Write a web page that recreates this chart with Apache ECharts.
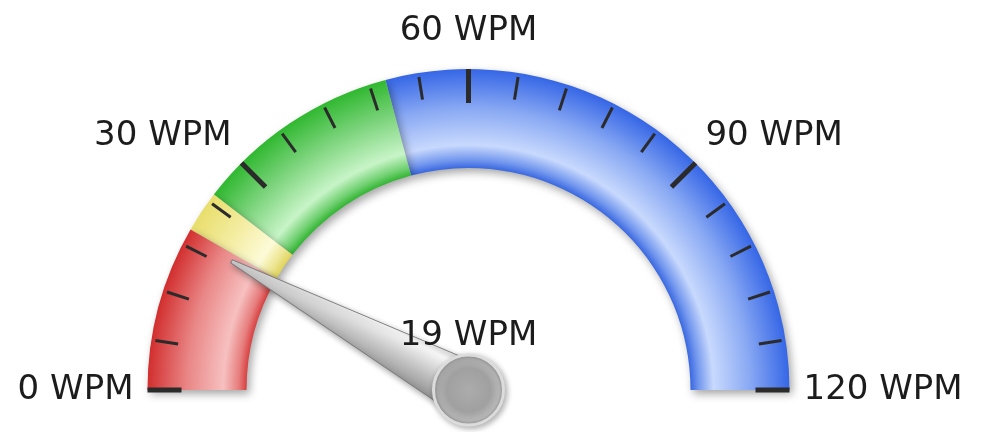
<!DOCTYPE html>
<html>
<head>
<meta charset="utf-8">
<style>
  html, body { margin: 0; padding: 0; background: #fff; }
  #chart { width: 982px; height: 432px; }
</style>
<script src="https://cdn.jsdelivr.net/npm/echarts@6/dist/echarts.min.js"></script>
</head>
<body>
<div id="chart"></div>
<script>
const scaleMin = 0;
const scaleMax = 120;
const majorTicks = [0, 30, 60, 90, 120];
const bandEnds = [20, 25, 50, 120];
const needleValue = 19;
const unitLabel = "WPM";

// shading per band: inner edge, inner mid, highlight, outer mid, outer edge
const bandShades = [
  ["#d84040", "#e77e7e", "#f7c0c0", "#e98585", "#d22e2e"],
  ["#e0d35a", "#ece48e", "#fdfbd8", "#f3ec9f", "#e8de6c"],
  ["#33b533", "#6fd06f", "#c8f4c8", "#7fd57f", "#30b830"],
  ["#3a68e0", "#7196ee", "#c8d9fd", "#88a8f3", "#3566e6"],
];

const CX = 468.5, CY = 390, R = 321, BAND = 99;
const FONT = "DejaVu Sans";

function ringFill(shade) {
  const inner = (R - BAND) / R;
  return {
    type: "radial", x: CX, y: CY, r: R, global: true,
    colorStops: [
      { offset: 0, color: shade[0] },
      { offset: inner, color: shade[0] },
      { offset: inner + 8 / R, color: shade[1] },
      { offset: inner + 23 / R, color: shade[2] },
      { offset: inner + 60 / R, color: shade[3] },
      { offset: 1, color: shade[4] },
    ],
  };
}

const chart = echarts.init(document.getElementById("chart"));

const gaugeBase = {
  type: "gauge",
  center: [CX, CY],
  radius: R,
  startAngle: 180,
  endAngle: 0,
  min: scaleMin,
  max: scaleMax,
  splitNumber: majorTicks.length - 1,
};

chart.setOption({
  animation: false,
  polar: { center: [CX, CY], radius: R },
  angleAxis: {
    type: "value",
    min: 0,
    max: scaleMax * 2,
    interval: 30,
    startAngle: 180,
    clockwise: true,
    axisLine: { show: false },
    axisTick: { show: false },
    splitLine: { show: false },
    axisLabel: {
      margin: 14,
      fontSize: 34,
      fontFamily: FONT,
      color: "#1c1c1c",
      rich: { top: { fontSize: 34, fontFamily: FONT, color: "#1c1c1c", padding: [0, 0, 7, 0] } },
      formatter: function (v) {
        if (!majorTicks.includes(v)) return "";
        const text = v + " " + unitLabel;
        return v === (scaleMin + scaleMax) / 2 ? "{top|" + text + "}" : text;
      },
    },
  },
  radiusAxis: { type: "value", show: false },
  series: [
    {
      ...gaugeBase,
      axisLine: {
        lineStyle: {
          width: BAND,
          color: bandEnds.map((v, i) => [v / scaleMax, ringFill(bandShades[i])]),
          shadowBlur: 8,
          shadowColor: "rgba(0,0,0,0.35)",
          shadowOffsetX: 3,
          shadowOffsetY: 4,
        },
      },
      splitLine: {
        distance: -BAND,
        length: 34,
        lineStyle: { color: "#2b2b2b", width: 5 },
      },
      axisTick: {
        splitNumber: 5,
        distance: -BAND + 4,
        length: 23,
        lineStyle: { color: "#2b2b2b", width: 3 },
      },
      axisLabel: { show: false },
      pointer: {
        icon: "path://M9.4,0 L10.6,0 L20,100 L0,100 Z",
        length: "84%",
        width: 56,
        itemStyle: {
          color: {
            type: "linear", x: 0, y: 0, x2: 1, y2: 0,
            colorStops: [
              { offset: 0, color: "#8c8c8c" },
              { offset: 0.45, color: "#c8c8c8" },
              { offset: 0.8, color: "#f8f8f8" },
              { offset: 1, color: "#d0d0d0" },
            ],
          },
          borderColor: "#7a7a7a",
          borderWidth: 1,
          shadowBlur: 6,
          shadowColor: "rgba(0,0,0,0.35)",
          shadowOffsetX: 2,
          shadowOffsetY: 3,
        },
      },
      anchor: {
        show: true,
        showAbove: true,
        size: 70,
        itemStyle: {
          color: {
            type: "radial", x: 0.5, y: 0.5, r: 0.5,
            colorStops: [
              { offset: 0, color: "#acacac" },
              { offset: 0.6, color: "#a0a0a0" },
              { offset: 0.85, color: "#b8b8b8" },
              { offset: 1, color: "#909090" },
            ],
          },
          borderColor: "#dcdcdc",
          borderWidth: 3,
          shadowBlur: 6,
          shadowColor: "rgba(0,0,0,0.3)",
          shadowOffsetX: 2,
          shadowOffsetY: 2,
        },
      },
      title: { show: false },
      detail: { show: false },
      data: [{ value: needleValue }],
    },
    {
      // value readout drawn above the needle
      ...gaugeBase,
      z: 5,
      axisLine: { show: false },
      splitLine: { show: false },
      axisTick: { show: false },
      axisLabel: { show: false },
      pointer: { show: false },
      anchor: { show: false },
      title: { show: false },
      detail: {
        offsetCenter: [0, -54],
        fontSize: 34,
        fontFamily: FONT,
        fontWeight: "normal",
        color: "#1c1c1c",
        formatter: "{value} " + unitLabel,
      },
      data: [{ value: needleValue }],
    },
  ],
});
</script>
</body>
</html>
